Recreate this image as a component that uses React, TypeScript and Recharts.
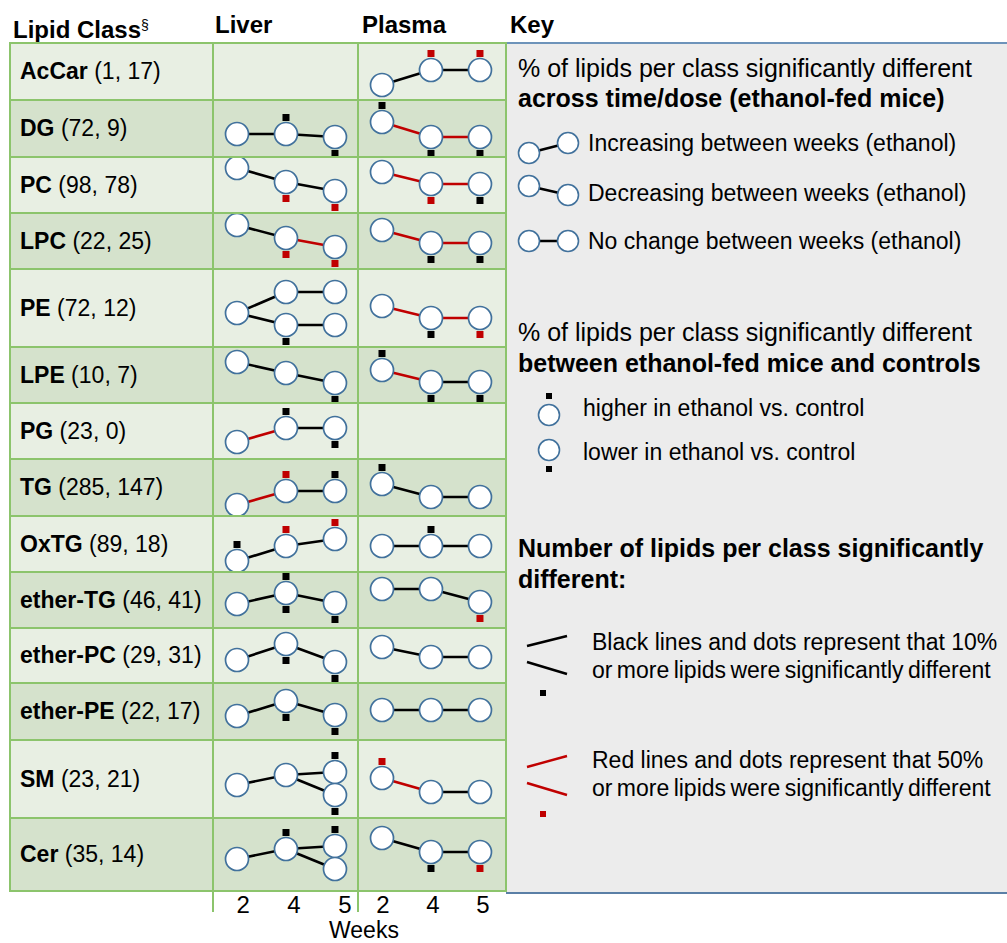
import React from 'react';
import { ScatterChart, Scatter, XAxis, YAxis } from 'recharts';

const LIPID_CLASSES = ['AcCar', 'DG', 'PC', 'LPC', 'PE', 'LPE', 'PG', 'TG', 'OxTG', 'ether-TG', 'ether-PC', 'ether-PE', 'SM', 'Cer'];
const LIVER_COUNTS = [1, 72, 98, 22, 72, 10, 23, 285, 89, 46, 29, 22, 23, 35];
const PLASMA_COUNTS = [17, 9, 78, 25, 12, 7, 0, 147, 18, 41, 31, 17, 21, 14];
const WEEKS = ['2', '4', '5'];

// nodes: [week slot, relative level]
const LIVER_NODES = [
  [],
  [[0, 2.3], [1, 2.3], [2, 2.0]],
  [[0, 4.5], [1, 3.1], [2, 2.2]],
  [[0, 4.4], [1, 3.1], [2, 2.2]],
  [[0, 3.4], [1, 5.5], [2, 5.5], [1, 2.2], [2, 2.2]],
  [[0, 4.1], [1, 3.0], [2, 2.0]],
  [[0, 1.7], [1, 3.1], [2, 3.1]],
  [[0, 1.1], [1, 2.5], [2, 2.5]],
  [[0, 1.1], [1, 2.6], [2, 3.3]],
  [[0, 2.4], [1, 3.5], [2, 2.5]],
  [[0, 2.3], [1, 3.9], [2, 2.1]],
  [[0, 2.4], [1, 3.9], [2, 2.5]],
  [[0, 3.3], [1, 4.3], [2, 4.6], [2, 2.3]],
  [[0, 3.2], [1, 4.2], [2, 4.5], [2, 2.2]],
];
// links: [from node, to node, colour]
const LIVER_LINKS = [
  [],
  [[0, 1, 'k'], [1, 2, 'k']],
  [[0, 1, 'k'], [1, 2, 'k']],
  [[0, 1, 'k'], [1, 2, 'r']],
  [[0, 1, 'k'], [1, 2, 'k'], [0, 3, 'k'], [3, 4, 'k']],
  [[0, 1, 'k'], [1, 2, 'k']],
  [[0, 1, 'r'], [1, 2, 'k']],
  [[0, 1, 'r'], [1, 2, 'k']],
  [[0, 1, 'k'], [1, 2, 'k']],
  [[0, 1, 'k'], [1, 2, 'k']],
  [[0, 1, 'k'], [1, 2, 'k']],
  [[0, 1, 'k'], [1, 2, 'k']],
  [[0, 1, 'k'], [1, 2, 'k'], [1, 3, 'k']],
  [[0, 1, 'k'], [1, 2, 'k'], [1, 3, 'k']],
];
// significance vs control: [node, 1 higher / -1 lower, colour]
const LIVER_SIG = [
  [],
  [[1, 1, 'k'], [2, -1, 'k']],
  [[1, -1, 'r'], [2, -1, 'r']],
  [[1, -1, 'r'], [2, -1, 'r']],
  [[3, -1, 'k']],
  [[2, -1, 'k']],
  [[1, 1, 'k'], [2, -1, 'k']],
  [[1, 1, 'r'], [2, 1, 'k']],
  [[0, 1, 'k'], [1, 1, 'r'], [2, 1, 'r']],
  [[1, 1, 'k'], [1, -1, 'k'], [2, -1, 'k']],
  [[1, -1, 'k'], [2, -1, 'k']],
  [[1, -1, 'k'], [2, -1, 'k']],
  [[2, 1, 'k'], [3, -1, 'k']],
  [[1, 1, 'k'], [2, 1, 'k']],
];

const PLASMA_NODES = [
  [[0, 1.5], [1, 3.0], [2, 3.0]],
  [[0, 3.5], [1, 2.0], [2, 2.0]],
  [[0, 4.1], [1, 2.9], [2, 2.9]],
  [[0, 3.9], [1, 2.6], [2, 2.6]],
  [[0, 4.1], [1, 2.9], [2, 2.9]],
  [[0, 3.3], [1, 2.1], [2, 2.1]],
  [],
  [[0, 3.2], [1, 1.9], [2, 1.9]],
  [[0, 2.6], [1, 2.6], [2, 2.6]],
  [[0, 3.9], [1, 3.9], [2, 2.6]],
  [[0, 3.6], [1, 2.6], [2, 2.6]],
  [[0, 3.0], [1, 3.0], [2, 3.0]],
  [[0, 4.0], [1, 2.6], [2, 2.6]],
  [[0, 5.3], [1, 3.9], [2, 3.9]],
];
const PLASMA_LINKS = [
  [[0, 1, 'k'], [1, 2, 'k']],
  [[0, 1, 'r'], [1, 2, 'r']],
  [[0, 1, 'r'], [1, 2, 'r']],
  [[0, 1, 'r'], [1, 2, 'r']],
  [[0, 1, 'r'], [1, 2, 'r']],
  [[0, 1, 'r'], [1, 2, 'k']],
  [],
  [[0, 1, 'k'], [1, 2, 'k']],
  [[0, 1, 'k'], [1, 2, 'k']],
  [[0, 1, 'k'], [1, 2, 'k']],
  [[0, 1, 'k'], [1, 2, 'k']],
  [[0, 1, 'k'], [1, 2, 'k']],
  [[0, 1, 'r'], [1, 2, 'k']],
  [[0, 1, 'k'], [1, 2, 'k']],
];
const PLASMA_SIG = [
  [[1, 1, 'r'], [2, 1, 'r']],
  [[0, 1, 'k'], [1, -1, 'k'], [2, -1, 'k']],
  [[1, -1, 'r'], [2, -1, 'k']],
  [[1, -1, 'k'], [2, -1, 'k']],
  [[1, -1, 'k'], [2, -1, 'r']],
  [[0, 1, 'k'], [1, -1, 'k'], [2, -1, 'k']],
  [],
  [[0, 1, 'k']],
  [[1, 1, 'k']],
  [[2, -1, 'r']],
  [],
  [],
  [[0, 1, 'r']],
  [[1, -1, 'k'], [2, -1, 'r']],
];

const ROW_EDGES = [43, 100, 157, 213, 269, 347, 403, 459, 516, 572, 628, 683, 740, 818, 891];
const FONT = '"Liberation Sans", Arial, sans-serif';
const COL = { k: '#000000', r: '#c00000' } as any;
const GRID = '#8cc46c';
const LIGHT = '#e8efe3';
const DARK = '#d5e2cc';
const CIRCLE_STROKE = '#41719c';
const CELL_W = 145;

const EmptyShape = () => <g />;

const NodeShape = (p: any) => (
  <circle cx={p.cx} cy={p.cy} r={11.5} fill="#fff" stroke={CIRCLE_STROKE} strokeWidth={1.7} />
);

const SigShape = (p: any) => {
  const d = p.payload?.dir ?? p.dir;
  const c = p.payload?.c ?? p.c;
  return <rect x={p.cx - 3.5} y={p.cy - d * 16.5 - 3.5} width={7} height={7} fill={COL[c]} />;
};

const Cell = ({ nodes, links, sig, h }: any) => {
  if (!nodes.length) return null;
  const pts = nodes.map((n: number[]) => ({ x: n[0], y: n[1] }));
  return (
    <ScatterChart width={CELL_W} height={h} margin={{ top: 0, right: 0, bottom: 0, left: 0 }}>
      <XAxis type="number" dataKey="x" domain={[-0.49, 2.47]} allowDataOverflow hide />
      <YAxis type="number" dataKey="y" domain={[0, h / 10]} allowDataOverflow hide />
      {links.map((l: any[], i: number) => (
        <Scatter
          key={`l${i}`}
          data={[pts[l[0]], pts[l[1]]]}
          line={{ stroke: COL[l[2]], strokeWidth: 2.6 }}
          shape={EmptyShape}
          isAnimationActive={false}
        />
      ))}
      <Scatter data={pts} shape={NodeShape} isAnimationActive={false} />
      <Scatter
        data={sig.map((s: any[]) => ({ ...pts[s[0]], dir: s[1], c: s[2] }))}
        shape={SigShape}
        isAnimationActive={false}
      />
    </ScatterChart>
  );
};

const WeekAxis = ({ domain }: { domain: number[] }) => (
  <ScatterChart width={CELL_W} height={50} margin={{ top: 0, right: 0, bottom: 0, left: 0 }}>
    <XAxis
      type="number"
      dataKey="x"
      domain={domain}
      ticks={[0, 1, 2]}
      tickFormatter={(v: number) => WEEKS[v]}
      axisLine={false}
      tickLine={false}
      height={42}
      tick={{ fill: '#000', fontSize: 24, fontFamily: FONT }}
      allowDataOverflow
    />
    <YAxis type="number" dataKey="y" domain={[0, 1]} hide />
    <Scatter data={[]} isAnimationActive={false} />
  </ScatterChart>
);

const Txt = ({ x, y, size, bold, children, style }: any) => (
  <div
    style={{
      position: 'absolute', left: x, top: y - size / 2, fontSize: size, lineHeight: `${size}px`,
      fontWeight: bold ? 'bold' : 'normal', whiteSpace: 'nowrap', color: '#000', ...style,
    }}
  >
    {children}
  </div>
);

const Bubble = ({ cx, cy }: any) => (
  <circle cx={cx} cy={cy} r={10.5} fill="#fff" stroke={CIRCLE_STROKE} strokeWidth={1.6} />
);

export default function App() {
  return (
    <div style={{ position: 'absolute', left: 0, top: 0, width: 1007, height: 943, background: '#fff', fontFamily: FONT, overflow: 'hidden' }}>
      <Txt x={13} y={25} size={24} bold>Lipid Class<sup style={{ fontSize: 14, fontWeight: 'normal', verticalAlign: 8 }}>§</sup></Txt>
      <Txt x={215} y={25} size={24} bold>Liver</Txt>
      <Txt x={362} y={25} size={24} bold>Plasma</Txt>
      <Txt x={510} y={25} size={24} bold>Key</Txt>

      {/* key panel */}
      <div style={{ position: 'absolute', left: 506, top: 42, width: 510, height: 848, background: '#ececec', borderTop: '2px solid #6d93ba', borderBottom: '2px solid #5a7fa6' }} />

      {LIPID_CLASSES.map((name, i) => {
        const top = ROW_EDGES[i];
        const h = ROW_EDGES[i + 1] - top;
        return (
          <div key={name} style={{ position: 'absolute', left: 10, top, width: 496, height: h, background: i % 2 ? DARK : LIGHT }}>
            <div style={{ position: 'absolute', left: 10, top: 0, height: h, display: 'flex', alignItems: 'center', fontSize: 23, whiteSpace: 'nowrap' }}>
              <b>{name}</b>&nbsp;({LIVER_COUNTS[i]}, {PLASMA_COUNTS[i]})
            </div>
            <div style={{ position: 'absolute', left: 203, top: 0 }}>
              <Cell nodes={LIVER_NODES[i]} links={LIVER_LINKS[i]} sig={LIVER_SIG[i]} h={h} />
            </div>
            <div style={{ position: 'absolute', left: 348, top: 0 }}>
              <Cell nodes={PLASMA_NODES[i]} links={PLASMA_LINKS[i]} sig={PLASMA_SIG[i]} h={h} />
            </div>
          </div>
        );
      })}

      {/* grid lines */}
      {ROW_EDGES.map((y, i) => (
        <div key={`h${i}`} style={{ position: 'absolute', left: 10, top: y - 1, width: 496, height: 2, background: GRID }} />
      ))}
      <div style={{ position: 'absolute', left: 9, top: 42, width: 2, height: 850, background: GRID }} />
      <div style={{ position: 'absolute', left: 212, top: 42, width: 2, height: 870, background: GRID }} />
      <div style={{ position: 'absolute', left: 357, top: 42, width: 2, height: 870, background: GRID }} />
      <div style={{ position: 'absolute', left: 505, top: 42, width: 2, height: 850, background: GRID }} />

      {/* week axes */}
      <div style={{ position: 'absolute', left: 213, top: 880 }}>
        <WeekAxis domain={[-0.59, 2.255]} />
      </div>
      <div style={{ position: 'absolute', left: 358, top: 880 }}>
        <WeekAxis domain={[-0.5, 2.4]} />
      </div>
      <Txt x={329} y={930} size={23}>Weeks</Txt>

      {/* key content */}
      <Txt x={518} y={68} size={25}>% of lipids per class significantly different</Txt>
      <Txt x={518} y={98} size={25} bold>across time/dose (ethanol-fed mice)</Txt>
      <svg style={{ position: 'absolute', left: 506, top: 120 }} width={80} height={140}>
        <line x1={23} y1={33} x2={62} y2={23} stroke="#000" strokeWidth={2.6} />
        <Bubble cx={23} cy={33} />
        <Bubble cx={62} cy={23} />
        <line x1={23} y1={66} x2={62} y2={75} stroke="#000" strokeWidth={2.6} />
        <Bubble cx={23} cy={66} />
        <Bubble cx={62} cy={75} />
        <line x1={23} y1={121} x2={62} y2={121} stroke="#000" strokeWidth={2.6} />
        <Bubble cx={23} cy={121} />
        <Bubble cx={62} cy={121} />
      </svg>
      <Txt x={588} y={143} size={23}>Increasing between weeks (ethanol)</Txt>
      <Txt x={588} y={193} size={23}>Decreasing between weeks (ethanol)</Txt>
      <Txt x={588} y={241} size={23}>No change between weeks (ethanol)</Txt>

      <Txt x={518} y={332} size={25}>% of lipids per class significantly different</Txt>
      <Txt x={518} y={363} size={25} bold>between ethanol-fed mice and controls</Txt>
      <svg style={{ position: 'absolute', left: 506, top: 385 }} width={80} height={100}>
        <rect x={40} y={8} width={6} height={6} fill="#000" />
        <Bubble cx={43} cy={30} />
        <Bubble cx={43} cy={65} />
        <rect x={40} y={81} width={6} height={6} fill="#000" />
      </svg>
      <Txt x={583} y={408} size={23}>higher in ethanol vs. control</Txt>
      <Txt x={583} y={452} size={23}>lower in ethanol vs. control</Txt>

      <Txt x={518} y={548} size={25} bold>Number of lipids per class significantly</Txt>
      <Txt x={518} y={579} size={25} bold>different:</Txt>
      <svg style={{ position: 'absolute', left: 506, top: 620 }} width={80} height={210}>
        <line x1={21} y1={26} x2={61} y2={16} stroke="#000" strokeWidth={2.4} />
        <line x1={21} y1={42} x2={61} y2={54} stroke="#000" strokeWidth={2.4} />
        <rect x={34} y={70} width={6} height={6} fill="#000" />
        <line x1={21} y1={147} x2={61} y2={136} stroke="#c00000" strokeWidth={2.4} />
        <line x1={21} y1={163} x2={61} y2={175} stroke="#c00000" strokeWidth={2.4} />
        <rect x={34} y={191} width={6} height={6} fill="#c00000" />
      </svg>
      <Txt x={592} y={642} size={23}>Black lines and dots represent that 10%</Txt>
      <Txt x={592} y={670} size={23} style={{ wordSpacing: -2 }}>or more lipids were significantly different</Txt>
      <Txt x={592} y={760} size={23}>Red lines and dots represent that 50%</Txt>
      <Txt x={592} y={788} size={23} style={{ wordSpacing: -2 }}>or more lipids were significantly different</Txt>
    </div>
  );
}
